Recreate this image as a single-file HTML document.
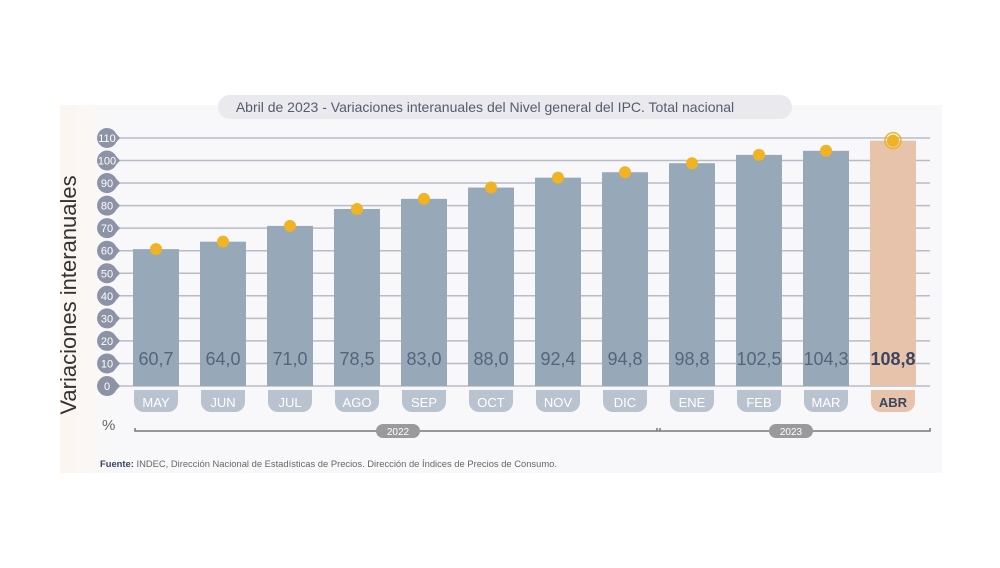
<!DOCTYPE html>
<html><head><meta charset="utf-8"><style>
body{margin:0;width:1000px;height:563px;background:#fff;overflow:hidden;font-family:"Liberation Sans",sans-serif}
</style></head><body>
<svg id="s" width="1000" height="563" xmlns="http://www.w3.org/2000/svg" font-family="Liberation Sans, sans-serif"></svg>
<script>
const vals=[60.7,64,71,78.5,83,88,92.4,94.8,98.8,102.5,104.3,108.8];
const mon=["MAY","JUN","JUL","AGO","SEP","OCT","NOV","DIC","ENE","FEB","MAR","ABR"];
let h='';
h+='<defs><linearGradient id="g" x1="0" x2="1"><stop offset="0" stop-color="#fdf6f0"/><stop offset="0.06" stop-color="#f8f8fa"/></linearGradient></defs>';
h+='<rect x="60" y="105" width="882" height="368" fill="url(#g)"/>';
h+='<rect x="218" y="95" width="574" height="24" rx="12" fill="#e9e9ee"/>';
h+='<text x="485" y="112" font-size="14" text-anchor="middle" fill="#555c6e">Abril de 2023 - Variaciones interanuales del Nivel general del IPC. Total nacional</text>';
const y0=386,k=2.255;
for(let i=0;i<=11;i++){const y=y0-i*10*k;
 h+=`<line x1="115" y1="${y}" x2="930" y2="${y}" stroke="#b9bcc4" stroke-width="1.5"/>`;
 h+=`<path d="M107 ${y-10} a10 10 0 0 1 9 5.5 l4 4.5 l-4 4.5 a10 10 0 1 1 -9 -14.5z" fill="#8d93a6"/>`;
 h+=`<text x="107" y="${y+4}" font-size="11" text-anchor="middle" fill="#fff">${i*10}</text>`;}
h+='<text transform="translate(76,295) rotate(-90)" font-size="22" text-anchor="middle" fill="#333">Variaciones interanuales</text>';
h+='<text x="102" y="430" font-size="15" fill="#666">%</text>';
for(let i=0;i<12;i++){const cx=156+i*67,v=vals[i],t=y0-v*k,last=i==11;
 h+=`<rect x="${cx-23}" y="${t}" width="46" height="${y0-t}" fill="${last?'#e8c3ac':'#97a8b8'}"/>`;
 h+=`<text x="${cx}" y="365" font-size="18" text-anchor="middle" fill="${last?'#3a4560':'#56657a'}" ${last?'font-weight="bold"':''}>${String(v.toFixed(1)).replace('.',',')}</text>`;
 h+=`<path d="M${cx-22} 390 h44 v12 a10 10 0 0 1 -10 10 h-24 a10 10 0 0 1 -10 -10z" fill="${last?'#e8c3ac':'#b8c3cf'}"/>`;
 h+=`<text x="${cx}" y="407" font-size="13" text-anchor="middle" fill="${last?'#3a4560':'#fff'}" ${last?'font-weight="bold"':''}>${mon[i]}</text>`;
 if(last){h+=`<circle cx="${cx}" cy="${t}" r="8" fill="none" stroke="#f0b323" stroke-width="1.5"/>`}
 h+=`<circle cx="${cx}" cy="${t}" r="6" fill="#f0b323"/>`;}
h+='<path d="M135 428 v3 H657 v-3 M657 431 h3 M660 428 v3 H930 v-3" fill="none" stroke="#777" stroke-width="1.5"/>';
h+='<rect x="376" y="424" width="44" height="14" rx="7" fill="#9a9a9e"/><text x="398" y="435" font-size="10" fill="#fff" text-anchor="middle">2022</text>';
h+='<rect x="769" y="424" width="44" height="14" rx="7" fill="#9a9a9e"/><text x="791" y="435" font-size="10" fill="#fff" text-anchor="middle">2023</text>';
h+='<text x="100" y="467" font-size="9.4" fill="#666"><tspan font-weight="bold" fill="#3a4560">Fuente:</tspan> INDEC, Dirección Nacional de Estadísticas de Precios. Dirección de Índices de Precios de Consumo.</text>';
document.getElementById('s').innerHTML=h;
</script>
</body></html>
